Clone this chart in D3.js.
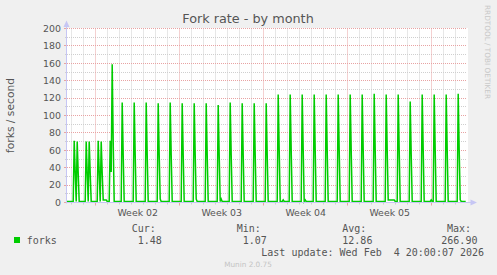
<!DOCTYPE html>
<html>
<head>
<meta charset="utf-8">
<script src="https://cdn.jsdelivr.net/npm/d3@7"></script>
<style>
  html, body { margin: 0; padding: 0; background: #f0f0f0; }
  svg { display: block; }
  text { font-family: "DejaVu Sans", sans-serif; fill: #555; }
  .mono { font-family: "DejaVu Sans Mono", monospace; white-space: pre; }
</style>
</head>
<body>
<div id="chart"></div>
<script>
// fork rate, 2-hour averages (forks / second)
const baseline = 1.2;

// two runs a day at the start of the month, then one bigger run a day
const earlyTimes = ["2026-01-03T05:00", "2026-01-03T11:00", "2026-01-04T05:00", "2026-01-04T11:00",
                    "2026-01-05T05:00", "2026-01-05T11:00", "2026-01-06T05:00", "2026-01-06T09:00"];
const earlyPeaks = [71, 70, 70, 70, 71, 70, 71, 159];
const earlyFalls = [35, 34, 34, 34, 35, 34, 35, 70];

const dailyDays = ["2026-01-07", "2026-01-08", "2026-01-09", "2026-01-10", "2026-01-11", "2026-01-12",
                   "2026-01-13", "2026-01-14", "2026-01-15", "2026-01-16", "2026-01-17", "2026-01-18",
                   "2026-01-19", "2026-01-20", "2026-01-21", "2026-01-22", "2026-01-23", "2026-01-24",
                   "2026-01-25", "2026-01-26", "2026-01-27", "2026-01-28", "2026-01-29", "2026-01-30",
                   "2026-01-31", "2026-02-01", "2026-02-02", "2026-02-03", "2026-02-04"];
const dailyPeaks = [115, 115, 115, 114, 115, 114, 114, 114, 112, 115, 114, 114, 114,
                    124, 124, 124, 124, 124, 124, 124, 124, 125, 124, 124, 116, 124, 124, 124, 125];
const dailyFalls = [55, 55, 55, 55, 55, 55, 55, 55, 54, 55, 55, 55, 55,
                    60, 60, 60, 60, 60, 60, 60, 60, 60, 60, 60, 56, 60, 60, 60, 60];

// small bumps on the baseline
const bumpTimes = ["2026-01-05T15:00", "2026-01-05T17:00", "2026-01-05T19:00", "2026-01-05T21:00",
                   "2026-01-10T09:00", "2026-01-13T09:00", "2026-01-15T11:00", "2026-01-20T15:00",
                   "2026-01-22T11:00", "2026-01-29T09:00", "2026-01-29T11:00", "2026-01-29T13:00",
                   "2026-01-29T15:00", "2026-01-29T17:00", "2026-01-29T19:00", "2026-01-29T21:00",
                   "2026-02-01T23:00", "2026-02-04T09:00"];
const bumpValues = [3, 3, 3, 3, 4, 4, 4, 3, 3, 3, 3, 3, 3, 3, 3, 3, 3, 3];

const yTicks = [0, 20, 40, 60, 80, 100, 120, 140, 160, 180, 200];
const legendStats = [
    { label: "Cur:", value: "1.48", lx: 131.7, vx: 137.7 },
    { label: "Min:", value: "1.07", lx: 236.7, vx: 242.7 },
    { label: "Avg:", value: "12.86", lx: 342.3, vx: 342.3 },
    { label: "Max:", value: "266.90", lx: 447, vx: 441.3 }
];

const parse = d3.utcParse("%Y-%m-%dT%H:%M");
const start = parse("2026-01-02T14:36");
const end = parse("2026-02-04T22:36");
const lastData = parse("2026-02-04T20:00");

const width = 497, height = 275;
const plotLeft = 67, plotRight = 467, plotTop = 28.5, plotBottom = 202.5;

const svg = d3.select("#chart").append("svg")
    .attr("width", width)
    .attr("height", height);

svg.append("rect").attr("width", width).attr("height", height).attr("fill", "#f0f0f0");
svg.append("rect").attr("x", plotLeft).attr("y", 28).attr("width", plotRight - plotLeft + 1).attr("height", 175)
    .attr("fill", "#ffffff");

const x = d3.scaleUtc().domain([start, end]).range([plotLeft, plotRight]);
const y = d3.scaleLinear().domain([0, 200]).range([plotBottom, plotTop]);
const crisp = v => Math.round(v - 0.5) + 0.5;

// build readings (keep highest value where two overlap)
const readings = new Map();
function put(t, v) {
    const k = +t;
    if (!readings.has(k) || readings.get(k) < v) readings.set(k, v);
}
function spike(t, peak, fall) {
    put(d3.utcHour.offset(t, -2), baseline);
    put(t, peak);
    put(d3.utcHour.offset(t, 2), fall);
    put(d3.utcHour.offset(t, 4), baseline);
}
put(start, baseline);
put(lastData, baseline);
earlyTimes.forEach((t, i) => spike(parse(t), earlyPeaks[i], earlyFalls[i]));
dailyDays.forEach((d, i) => spike(parse(d + "T05:00"), dailyPeaks[i], dailyFalls[i]));
bumpTimes.forEach((t, i) => {
    const tt = parse(t);
    put(d3.utcHour.offset(tt, -2), baseline);
    put(tt, bumpValues[i]);
    put(d3.utcHour.offset(tt, 2), baseline);
});
const series = Array.from(readings, ([k, v]) => [new Date(k), v])
    .filter(d => d[0] >= start && d[0] <= lastData)
    .sort((a, b) => a[0] - b[0]);

// grid
const minorColor = "#cfcfcf", majorColor = "#e8a3a3";
const grid = svg.append("g");
const days = d3.utcDay.range(d3.utcDay.ceil(start), end);
const mondays = d3.utcMonday.range(d3.utcMonday.ceil(start), end);

days.filter(d => d.getUTCDay() !== 1).forEach(d => {
    const px = crisp(x(d));
    grid.append("line").attr("x1", px).attr("x2", px).attr("y1", plotTop).attr("y2", plotBottom)
        .attr("stroke", minorColor).attr("stroke-dasharray", "1,1");
    grid.append("line").attr("x1", px).attr("x2", px).attr("y1", plotBottom).attr("y2", plotBottom + 2)
        .attr("stroke", minorColor);
});
d3.range(10, 200, 20).forEach(v => {
    const py = crisp(y(v));
    grid.append("line").attr("x1", plotLeft).attr("x2", plotRight).attr("y1", py).attr("y2", py)
        .attr("stroke", minorColor).attr("stroke-dasharray", "1,1");
    grid.append("line").attr("x1", plotLeft - 2).attr("x2", plotLeft).attr("y1", py).attr("y2", py)
        .attr("stroke", minorColor);
});
mondays.forEach(d => {
    const px = crisp(x(d));
    grid.append("line").attr("x1", px).attr("x2", px).attr("y1", plotTop).attr("y2", plotBottom)
        .attr("stroke", majorColor).attr("stroke-dasharray", "1,1");
    grid.append("line").attr("x1", px).attr("x2", px).attr("y1", plotBottom).attr("y2", plotBottom + 3)
        .attr("stroke", majorColor);
});
yTicks.forEach(v => {
    const py = crisp(y(v));
    grid.append("line").attr("x1", plotLeft).attr("x2", plotRight).attr("y1", py).attr("y2", py)
        .attr("stroke", majorColor).attr("stroke-dasharray", "1,1");
    grid.append("line").attr("x1", plotLeft - 3).attr("x2", plotLeft).attr("y1", py).attr("y2", py)
        .attr("stroke", majorColor);
});

// data line
svg.append("path")
    .datum(series)
    .attr("fill", "none")
    .attr("stroke", "#00cc00")
    .attr("stroke-width", 1.5)
    .attr("d", d3.line().x(d => x(d[0])).y(d => y(d[1])));

// axes with arrows
const axisColor = "#c6c6f4";
svg.append("line").attr("x1", plotLeft - 0.5).attr("x2", plotLeft - 0.5).attr("y1", plotBottom + 1).attr("y2", 24)
    .attr("stroke", axisColor);
svg.append("line").attr("x1", plotLeft - 1).attr("x2", 472).attr("y1", plotBottom).attr("y2", plotBottom)
    .attr("stroke", axisColor);
svg.append("path").attr("d", `M${plotLeft - 0.5},20.5 L${plotLeft - 3.5},27 L${plotLeft + 2.5},27 Z`).attr("fill", axisColor);
svg.append("path").attr("d", `M477,${plotBottom} L470.5,${plotBottom - 3} L470.5,${plotBottom + 3} Z`).attr("fill", axisColor);

// y tick labels
svg.append("g").selectAll("text")
    .data(yTicks)
    .enter()
    .append("text")
    .attr("x", 61)
    .attr("y", v => y(v) + 3.3)
    .attr("text-anchor", "end")
    .style("font-size", "9.4px")
    .text(v => v);

// week labels, centred on each week
svg.append("g").selectAll("text")
    .data(mondays.filter(d => d3.utcHour.offset(d, 84) < end))
    .enter()
    .append("text")
    .attr("x", d => x(d3.utcHour.offset(d, 84)))
    .attr("y", 216)
    .attr("text-anchor", "middle")
    .style("font-size", "9.4px")
    .text(d => "Week " + d3.utcFormat("%V")(d));

// titles
svg.append("text").attr("x", 248).attr("y", 23).attr("text-anchor", "middle")
    .style("font-size", "12.8px").text("Fork rate - by month");
svg.append("text").attr("transform", "translate(14,115.5) rotate(-90)").attr("text-anchor", "middle")
    .style("font-size", "10.7px").text("forks / second");
svg.append("text").attr("transform", "translate(485,5) rotate(90)")
    .style("font-size", "7.3px").style("fill", "#c8c8c8").text("RRDTOOL / TOBI OETIKER");

// legend
svg.append("rect").attr("x", 14).attr("y", 237).attr("width", 6).attr("height", 6).attr("fill", "#00cc00");
svg.append("text").attr("class", "mono").attr("x", 26.7).attr("y", 243.5)
    .style("font-size", "10px").text("forks");
legendStats.forEach(s => {
    svg.append("text").attr("class", "mono").attr("x", s.lx).attr("y", 232)
        .style("font-size", "10px").text(s.label);
    svg.append("text").attr("class", "mono").attr("x", s.vx).attr("y", 243.5)
        .style("font-size", "10px").text(s.value);
});
svg.append("text").attr("class", "mono").attr("x", 261.3).attr("y", 255.5)
    .style("font-size", "10px").text("Last update: Wed Feb  4 20:00:07 2026");
svg.append("text").attr("x", 248).attr("y", 266.5).attr("text-anchor", "middle")
    .style("font-size", "7.3px").style("fill", "#c4c4c4").text("Munin 2.0.75");
</script>
</body>
</html>
